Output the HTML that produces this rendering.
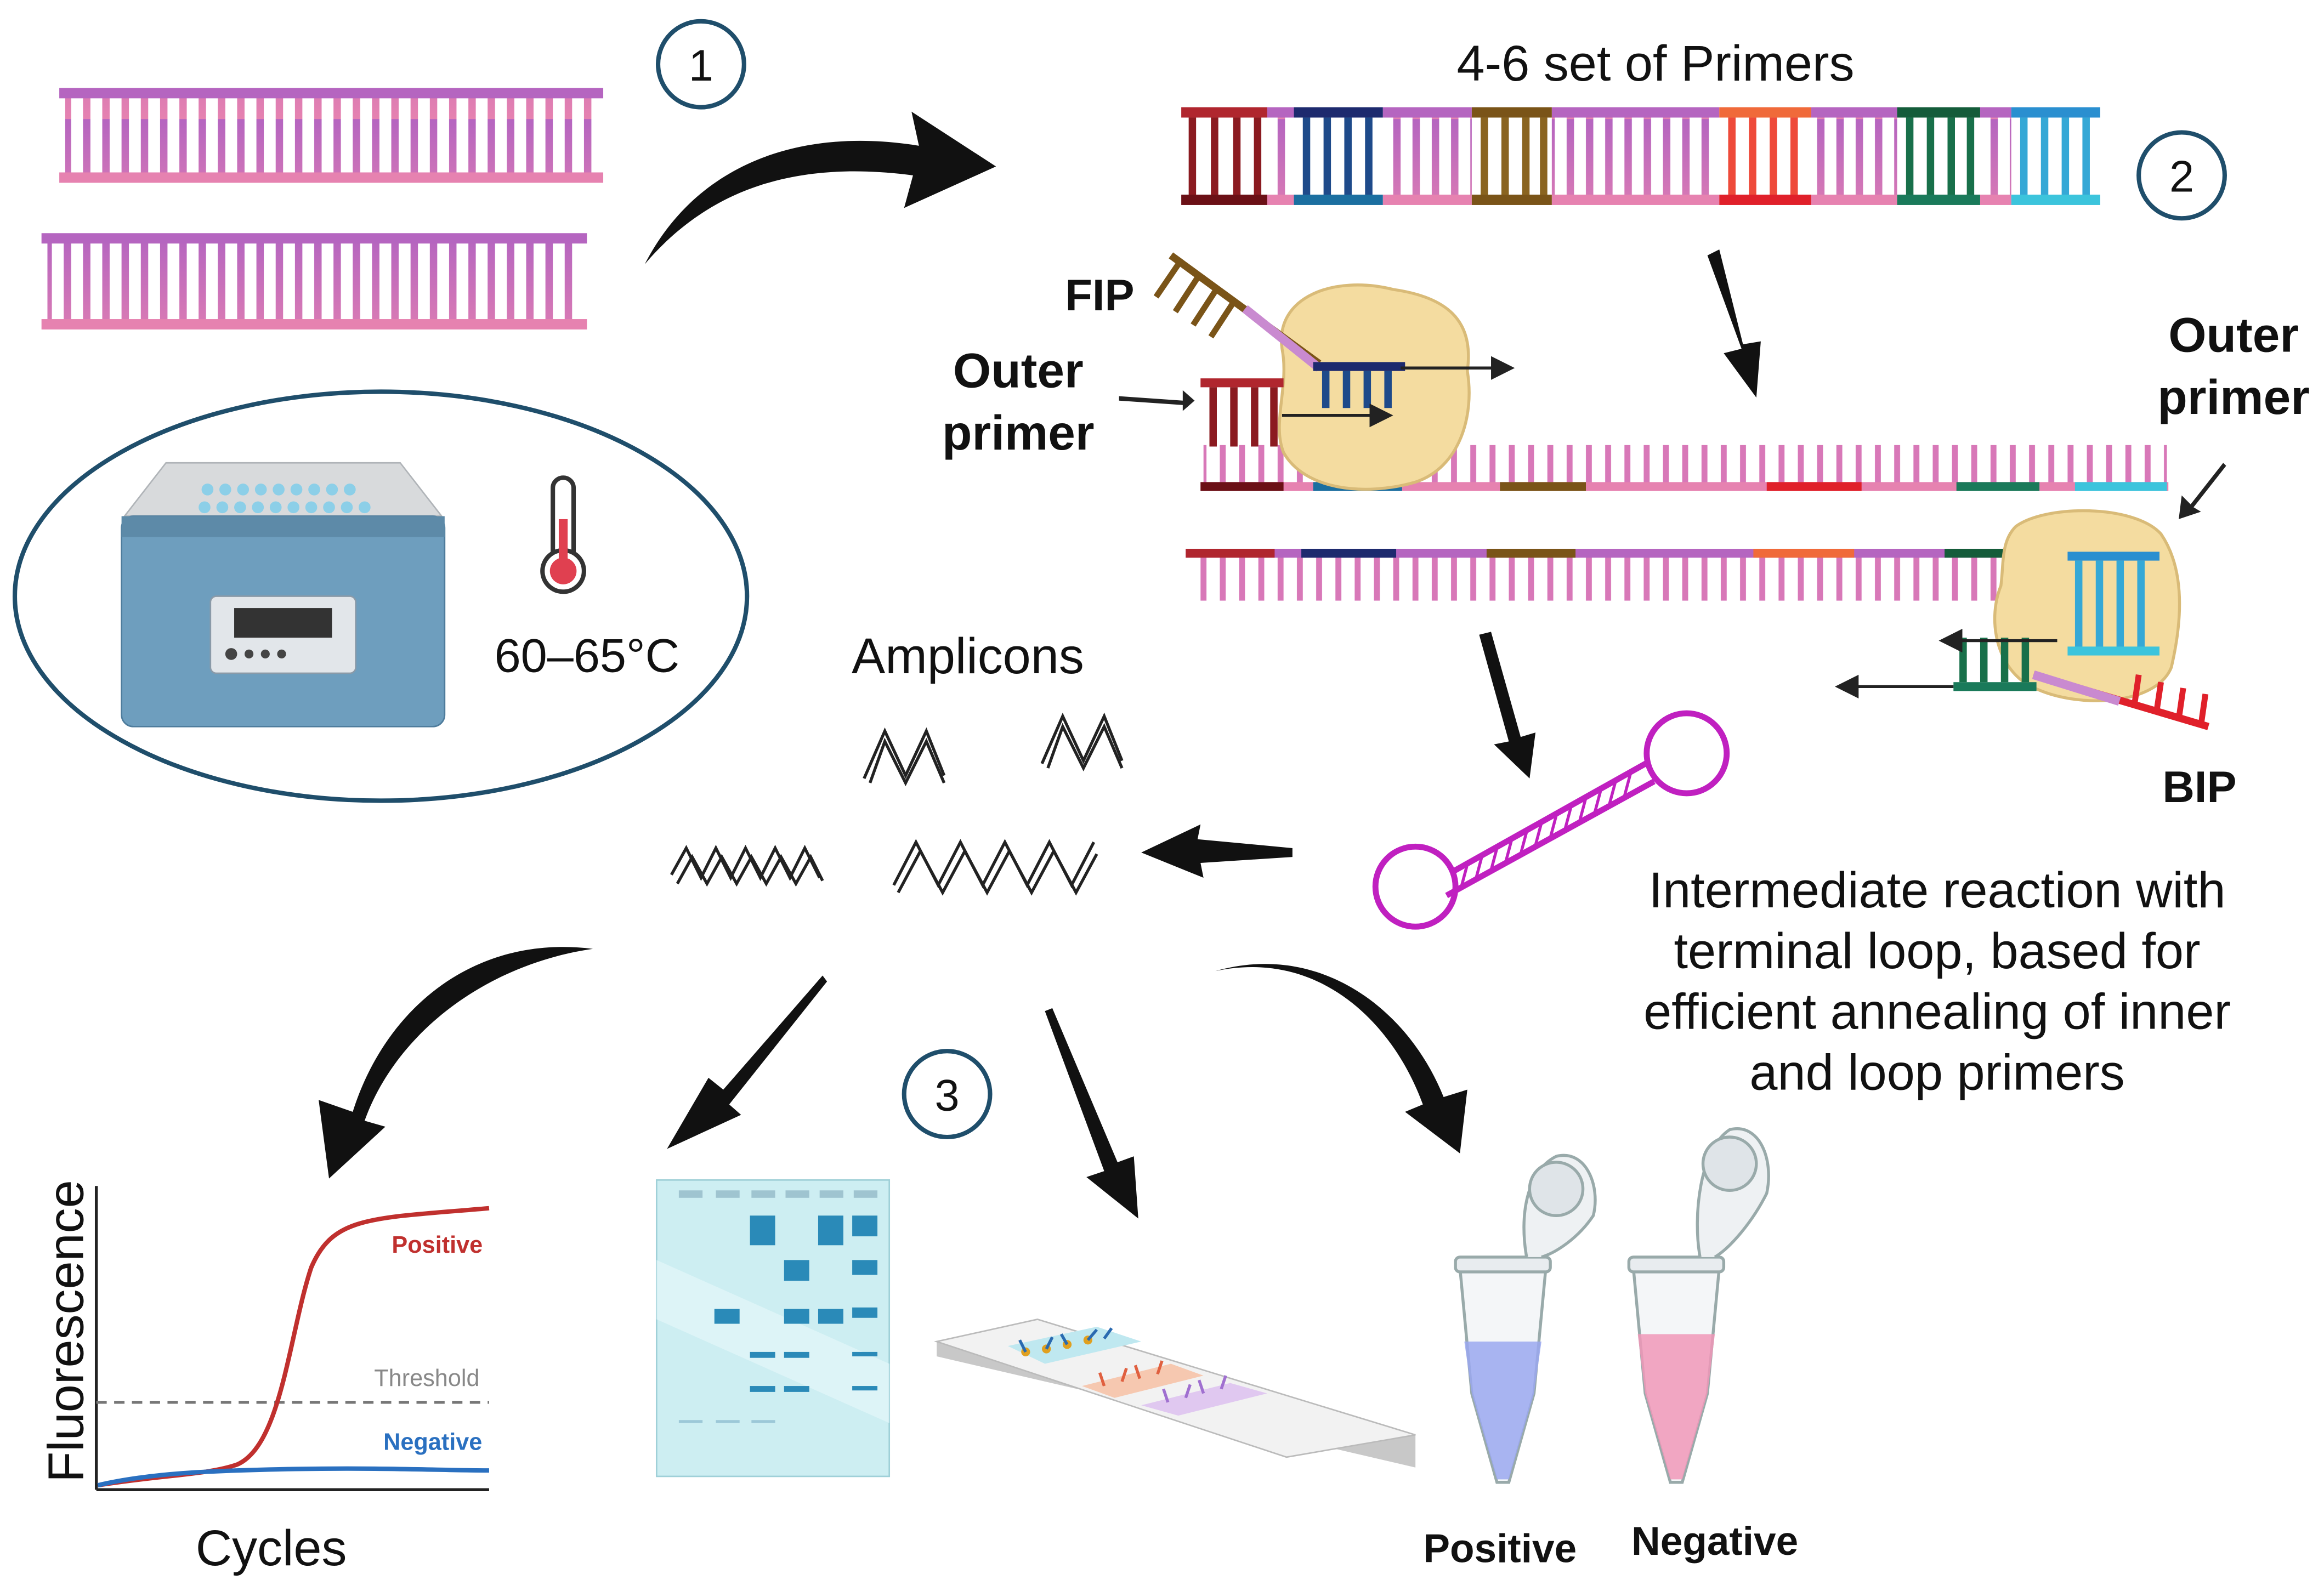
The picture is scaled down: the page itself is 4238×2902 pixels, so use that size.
<!DOCTYPE html>
<html><head><meta charset="utf-8"><style>
html,body{margin:0;padding:0;background:#fff;}
svg{display:block;}
text{font-family:"Liberation Sans",sans-serif;}
</style></head><body>
<svg width="4238" height="2902" viewBox="0 0 1568 1073" xmlns="http://www.w3.org/2000/svg">
<defs>
<linearGradient id="rg" x1="0" y1="0" x2="0" y2="1"><stop offset="0" stop-color="#b565c0"/><stop offset="1" stop-color="#e682b0"/></linearGradient>
<pattern id="rungs" width="13" height="80" patternUnits="userSpaceOnUse"><rect x="4" y="0" width="5" height="80" fill="url(#rg)"/></pattern>
<pattern id="rungs2" width="13" height="80" patternUnits="userSpaceOnUse"><rect x="4" y="0" width="4" height="80" fill="#d878b8"/></pattern>
<marker id="ah" markerWidth="8" markerHeight="8" refX="7" refY="4" orient="auto"><path d="M0,0 L8,4 L0,8 z" fill="#222"/></marker>
</defs>

<g>
<rect x="44" y="62" width="360" height="58" fill="url(#rungs)"/>
<rect x="40" y="59" width="367" height="7" fill="#b565c0"/>
<rect x="40" y="116" width="367" height="7" fill="#e682b0"/>
<rect x="32" y="160" width="360" height="60" fill="url(#rungs)"/>
<rect x="28" y="157" width="368" height="7" fill="#b565c0"/>
<rect x="28" y="215" width="368" height="7" fill="#e682b0"/>
</g>

<circle cx="473" cy="43" r="29" fill="none" stroke="#1f4e6b" stroke-width="3"/>
<text x="473" y="54" font-size="30" text-anchor="middle" fill="#111">1</text>

<path d="M435,178 C470,110 540,85 620,98 L615,75 L672,112 L610,140 L616,118 C540,108 480,125 435,178 z" fill="#111"/>

<text x="1117" y="54" font-size="34" text-anchor="middle" fill="#111">4-6 set of Primers</text>

<g>
<rect x="800" y="76" width="614" height="58" fill="url(#rungs)"/>
<rect x="797" y="72" width="620" height="7" fill="#b565c0"/>
<rect x="797" y="131" width="620" height="7" fill="#e682b0"/>
<g>
<rect x="797" y="72" width="58" height="66" fill="#fff"/>
<rect x="797" y="72" width="58" height="7" fill="#b0262e"/><rect x="797" y="131" width="58" height="7" fill="#6b1016"/>
<rect x="802" y="79" width="5" height="52" fill="#8b1a20"/><rect x="817" y="79" width="5" height="52" fill="#8b1a20"/><rect x="832" y="79" width="5" height="52" fill="#8b1a20"/><rect x="846" y="79" width="5" height="52" fill="#8b1a20"/>
</g>
<g>
<rect x="873" y="72" width="60" height="66" fill="#fff"/>
<rect x="873" y="72" width="60" height="7" fill="#1d2a6e"/><rect x="873" y="131" width="60" height="7" fill="#1b6fa0"/>
<rect x="879" y="79" width="5" height="52" fill="#1e4a8a"/><rect x="893" y="79" width="5" height="52" fill="#1e4a8a"/><rect x="907" y="79" width="5" height="52" fill="#1e4a8a"/><rect x="921" y="79" width="5" height="52" fill="#1e4a8a"/>
</g>
<g>
<rect x="993" y="72" width="54" height="66" fill="#fff"/>
<rect x="993" y="72" width="54" height="7" fill="#7a5418"/><rect x="993" y="131" width="54" height="7" fill="#7a5418"/>
<rect x="999" y="79" width="5" height="52" fill="#8a6420"/><rect x="1013" y="79" width="5" height="52" fill="#8a6420"/><rect x="1027" y="79" width="5" height="52" fill="#8a6420"/><rect x="1039" y="79" width="5" height="52" fill="#8a6420"/>
</g>
<g>
<rect x="1160" y="72" width="62" height="66" fill="#fff"/>
<rect x="1160" y="72" width="62" height="7" fill="#f06a3a"/><rect x="1160" y="131" width="62" height="7" fill="#e0202a"/>
<rect x="1166" y="79" width="5" height="52" fill="#ee4a3a"/><rect x="1180" y="79" width="5" height="52" fill="#ee4a3a"/><rect x="1194" y="79" width="5" height="52" fill="#ee4a3a"/><rect x="1208" y="79" width="5" height="52" fill="#ee4a3a"/>
</g>
<g>
<rect x="1280" y="72" width="56" height="66" fill="#fff"/>
<rect x="1280" y="72" width="56" height="7" fill="#145c3a"/><rect x="1280" y="131" width="56" height="7" fill="#1a7a5a"/>
<rect x="1286" y="79" width="5" height="52" fill="#18704a"/><rect x="1300" y="79" width="5" height="52" fill="#18704a"/><rect x="1314" y="79" width="5" height="52" fill="#18704a"/><rect x="1327" y="79" width="5" height="52" fill="#18704a"/>
</g>
<g>
<rect x="1357" y="72" width="60" height="66" fill="#fff"/>
<rect x="1357" y="72" width="60" height="7" fill="#2a8fd0"/><rect x="1357" y="131" width="60" height="7" fill="#3cc4dc"/>
<rect x="1363" y="79" width="5" height="52" fill="#35a8d6"/><rect x="1377" y="79" width="5" height="52" fill="#35a8d6"/><rect x="1391" y="79" width="5" height="52" fill="#35a8d6"/><rect x="1405" y="79" width="5" height="52" fill="#35a8d6"/>
</g>
</g>

<circle cx="1472" cy="118" r="29" fill="none" stroke="#1f4e6b" stroke-width="3"/>
<text x="1472" y="129" font-size="30" text-anchor="middle" fill="#111">2</text>

<path d="M1152,172 L1175,235 L1163,238 L1185,268 L1188,230 L1176,232 L1160,168 z" fill="#111"/>

<g>
<rect x="812" y="300" width="650" height="26" fill="url(#rungs2)"/>
<rect x="810" y="325" width="653" height="6" fill="#e682b0"/>
<rect x="810" y="325" width="56" height="6" fill="#6b1016"/>
<rect x="886" y="325" width="60" height="6" fill="#1b6fa0"/>
<rect x="1012" y="325" width="58" height="6" fill="#7a5418"/>
<rect x="1192" y="325" width="64" height="6" fill="#e0202a"/>
<rect x="1320" y="325" width="56" height="6" fill="#1a7a5a"/>
<rect x="1400" y="325" width="62" height="6" fill="#3cc4dc"/>
</g>
<g>
<rect x="802" y="375" width="655" height="30" fill="url(#rungs2)"/>
<rect x="800" y="370" width="660" height="6" fill="#b565c0"/>
<rect x="800" y="370" width="60" height="6" fill="#b0262e"/>
<rect x="878" y="370" width="64" height="6" fill="#1d2a6e"/>
<rect x="1003" y="370" width="60" height="6" fill="#7a5418"/>
<rect x="1183" y="370" width="68" height="6" fill="#f06a3a"/>
<rect x="1312" y="370" width="58" height="6" fill="#145c3a"/>
</g>

<path d="M865,235 C860,200 900,185 940,195 C975,200 995,215 990,250 C995,280 985,315 955,325 C920,335 880,330 866,305 C858,285 870,260 865,235 z" fill="#f4dca0" stroke="#d9bb78" stroke-width="2"/>
<path d="M790,172 L890,245" stroke="#7a5418" stroke-width="5"/>
<path d="M840,208 L890,248" stroke="#c98ad0" stroke-width="6"/>
<g stroke="#7a5418" stroke-width="4"><line x1="795" y1="178" x2="780" y2="200"/><line x1="808" y1="187" x2="793" y2="210"/><line x1="820" y1="196" x2="805" y2="219"/><line x1="832" y1="204" x2="817" y2="227"/></g>
<rect x="886" y="244" width="62" height="6" fill="#1d2a6e"/>
<g fill="#1e4a8a"><rect x="892" y="250" width="5" height="25"/><rect x="906" y="250" width="5" height="25"/><rect x="920" y="250" width="5" height="25"/><rect x="934" y="250" width="5" height="25"/></g>
<rect x="810" y="255" width="56" height="6" fill="#b0262e"/>
<g fill="#8b1a20"><rect x="816" y="261" width="5" height="40"/><rect x="830" y="261" width="5" height="40"/><rect x="844" y="261" width="5" height="40"/><rect x="857" y="261" width="5" height="40"/></g>
<line x1="945" y1="248" x2="1020" y2="248" stroke="#222" stroke-width="2" marker-end="url(#ah)"/>
<line x1="865" y1="280" x2="938" y2="280" stroke="#222" stroke-width="2" marker-end="url(#ah)"/>
<path d="M755,267 L798,270 L798,263 L806,270 L798,277 L798,273 L755,270 z" fill="#222"/>

<text x="742" y="209" font-size="30" font-weight="bold" text-anchor="middle" fill="#111">FIP</text>
<text x="687" y="261" font-size="33" font-weight="bold" text-anchor="middle" fill="#111">Outer</text>
<text x="687" y="303" font-size="33" font-weight="bold" text-anchor="middle" fill="#111">primer</text>
<text x="1507" y="237" font-size="33" font-weight="bold" text-anchor="middle" fill="#111">Outer</text>
<text x="1507" y="279" font-size="33" font-weight="bold" text-anchor="middle" fill="#111">primer</text>
<text x="1484" y="541" font-size="30" font-weight="bold" text-anchor="middle" fill="#111">BIP</text>

<path d="M1360,355 C1380,340 1440,340 1458,360 C1475,385 1472,420 1465,450 C1455,475 1405,478 1375,465 C1348,455 1340,420 1350,395 C1352,380 1350,365 1360,355 z" fill="#f4dca0" stroke="#d9bb78" stroke-width="2"/>
<rect x="1395" y="372" width="62" height="6" fill="#2a8fd0"/>
<g fill="#35a8d6"><rect x="1400" y="378" width="5" height="60"/><rect x="1414" y="378" width="5" height="60"/><rect x="1428" y="378" width="5" height="60"/><rect x="1442" y="378" width="5" height="60"/></g>
<rect x="1395" y="436" width="62" height="6" fill="#3cc4dc"/>
<rect x="1318" y="460" width="56" height="6" fill="#1a7a5a"/>
<g fill="#18704a"><rect x="1322" y="430" width="5" height="30"/><rect x="1336" y="430" width="5" height="30"/><rect x="1350" y="430" width="5" height="30"/><rect x="1364" y="430" width="5" height="30"/></g>
<path d="M1372,455 L1490,490" stroke="#e0202a" stroke-width="5"/>
<path d="M1372,455 L1430,473" stroke="#c98ad0" stroke-width="6"/>
<g stroke="#e0202a" stroke-width="4"><line x1="1440" y1="476" x2="1443" y2="455"/><line x1="1455" y1="480" x2="1458" y2="460"/><line x1="1470" y1="485" x2="1473" y2="464"/><line x1="1485" y1="489" x2="1488" y2="468"/></g>
<line x1="1388" y1="432" x2="1310" y2="432" stroke="#222" stroke-width="2" marker-end="url(#ah)"/>
<line x1="1318" y1="463" x2="1240" y2="463" stroke="#222" stroke-width="2" marker-end="url(#ah)"/>
<path d="M1500,312 L1478,340 L1472,334 L1470,350 L1485,345 L1480,342 L1502,314 z" fill="#222"/>

<ellipse cx="257" cy="402" rx="247" ry="138" fill="none" stroke="#1f4e6b" stroke-width="3"/>
<path d="M112,312 L270,312 L298,348 L84,348 z" fill="#d8dadc" stroke="#b0b4b8"/>
<g fill="#8ccfe8"><circle cx="140" cy="330" r="4"/><circle cx="152" cy="330" r="4"/><circle cx="164" cy="330" r="4"/><circle cx="176" cy="330" r="4"/><circle cx="188" cy="330" r="4"/><circle cx="200" cy="330" r="4"/><circle cx="212" cy="330" r="4"/><circle cx="224" cy="330" r="4"/><circle cx="236" cy="330" r="4"/>
<circle cx="138" cy="342" r="4"/><circle cx="150" cy="342" r="4"/><circle cx="162" cy="342" r="4"/><circle cx="174" cy="342" r="4"/><circle cx="186" cy="342" r="4"/><circle cx="198" cy="342" r="4"/><circle cx="210" cy="342" r="4"/><circle cx="222" cy="342" r="4"/><circle cx="234" cy="342" r="4"/><circle cx="246" cy="342" r="4"/></g>
<rect x="82" y="348" width="218" height="142" rx="8" fill="#6e9ebe" stroke="#4e7c9c"/>
<rect x="82" y="348" width="218" height="14" fill="#5d8aa8"/>
<rect x="142" y="402" width="98" height="52" rx="4" fill="#e2e6ea" stroke="#8a9aa8"/>
<rect x="158" y="410" width="66" height="20" fill="#333"/>
<g fill="#444"><circle cx="156" cy="441" r="4"/><circle cx="168" cy="441" r="3"/><circle cx="179" cy="441" r="3"/><circle cx="190" cy="441" r="3"/></g>
<rect x="373" y="322" width="14" height="60" rx="7" fill="#fff" stroke="#333" stroke-width="3"/>
<circle cx="380" cy="385" r="14" fill="#fff" stroke="#333" stroke-width="3"/>
<circle cx="380" cy="385" r="9" fill="#e04050"/>
<rect x="377" y="350" width="6" height="35" fill="#e04050"/>
<text x="396" y="453" font-size="32" text-anchor="middle" fill="#111">60–65°C</text>

<text x="653" y="454" font-size="34" text-anchor="middle" fill="#111">Amplicons</text>
<g fill="none" stroke="#222" stroke-width="2">
<path d="M583,525 L597,493 L611,523 L625,493 L637,523"/><path d="M587,528 L597,500 L611,528 L625,500 L637,528"/>
<path d="M703,515 L717,483 L731,513 L745,483 L757,513"/><path d="M707,518 L717,490 L731,518 L745,490 L757,518"/>
<path d="M453,590 L463,572 L473,592 L483,572 L493,592 L503,572 L513,592 L523,572 L533,592 L543,572 L553,592"/>
<path d="M457,596 L467,578 L477,596 L487,578 L497,596 L507,578 L517,596 L527,578 L537,596 L547,578 L555,594"/>
<path d="M603,597 L618,568 L633,597 L648,568 L663,597 L678,568 L693,597 L708,568 L723,597 L738,568"/>
<path d="M606,602 L621,574 L636,602 L651,574 L666,602 L681,574 L696,602 L711,574 L726,602 L740,576"/>
</g>

<path d="M998,428 L1018,500 L1008,502 L1032,525 L1036,494 L1026,497 L1006,426 z" fill="#111"/>
<path d="M872,572 L808,566 L810,556 L770,575 L812,592 L810,582 L872,578 z" fill="#111"/>

<g stroke="#c020c0" fill="none" stroke-width="4">
<circle cx="955" cy="598" r="27"/>
<circle cx="1138" cy="508" r="27"/>
<path d="M980,588 L1112,514"/><path d="M976,604 L1116,527"/>
</g>
<g stroke="#c020c0" stroke-width="2">
<line x1="990" y1="583" x2="986" y2="598"/><line x1="1000" y1="577" x2="996" y2="592"/><line x1="1010" y1="572" x2="1006" y2="587"/><line x1="1020" y1="566" x2="1016" y2="581"/><line x1="1030" y1="561" x2="1026" y2="576"/><line x1="1040" y1="555" x2="1036" y2="570"/><line x1="1050" y1="550" x2="1046" y2="565"/><line x1="1060" y1="544" x2="1056" y2="559"/><line x1="1070" y1="538" x2="1066" y2="553"/><line x1="1080" y1="533" x2="1076" y2="548"/><line x1="1090" y1="527" x2="1086" y2="542"/><line x1="1100" y1="522" x2="1096" y2="537"/>
</g>

<g font-size="34" text-anchor="middle" fill="#111">
<text x="1307" y="612">Intermediate reaction with</text>
<text x="1307" y="653">terminal loop, based for</text>
<text x="1307" y="694">efficient annealing of inner</text>
<text x="1307" y="735">and loop primers</text>
</g>

<path d="M400,640 C320,630 260,680 238,750 L215,742 L222,795 L260,760 L246,756 C268,695 330,650 400,640 z" fill="#111"/>
<path d="M555,658 L488,735 L478,727 L450,775 L500,752 L492,745 L558,662 z" fill="#111"/>
<path d="M705,682 L745,790 L733,794 L768,822 L765,780 L754,784 L710,680 z" fill="#111"/>
<path d="M820,655 C890,640 940,690 960,745 L948,750 L985,778 L990,735 L974,740 C950,680 890,635 820,655 z" fill="#111"/>

<circle cx="639" cy="738" r="29" fill="none" stroke="#1f4e6b" stroke-width="3"/>
<text x="639" y="749" font-size="30" text-anchor="middle" fill="#111">3</text>

<line x1="65" y1="800" x2="65" y2="1005" stroke="#222" stroke-width="2"/>
<line x1="65" y1="1005" x2="330" y2="1005" stroke="#222" stroke-width="2"/>
<line x1="65" y1="946" x2="330" y2="946" stroke="#777" stroke-width="2" stroke-dasharray="7,5"/>
<path d="M66,1002 C110,995 140,995 160,988 C190,975 195,900 210,855 C225,820 250,822 330,815" fill="none" stroke="#c0302e" stroke-width="3"/>
<path d="M66,1002 C100,994 140,992 200,991 C260,990 300,992 330,992" fill="none" stroke="#2a70c0" stroke-width="3"/>
<text x="295" y="845" font-size="16" font-weight="bold" text-anchor="middle" fill="#c0302e">Positive</text>
<text x="288" y="935" font-size="16" text-anchor="middle" fill="#888">Threshold</text>
<text x="292" y="978" font-size="16" font-weight="bold" text-anchor="middle" fill="#2a70c0">Negative</text>
<text x="0" y="0" font-size="34" text-anchor="middle" fill="#111" transform="translate(56,898) rotate(-90)">Fluorescence</text>
<text x="183" y="1056" font-size="34" text-anchor="middle" fill="#111">Cycles</text>

<rect x="443" y="796" width="157" height="200" fill="#cdeef2" stroke="#9fd0d8"/>
<path d="M443,850 L600,920 L600,960 L443,890 z" fill="#e4f7fa" opacity="0.7"/>
<g fill="#9fc4d0"><rect x="458" y="803" width="16" height="5"/><rect x="483" y="803" width="16" height="5"/><rect x="507" y="803" width="16" height="5"/><rect x="530" y="803" width="16" height="5"/><rect x="553" y="803" width="16" height="5"/><rect x="576" y="803" width="16" height="5"/></g>
<g fill="#2a8ab8"><rect x="506" y="820" width="17" height="20"/><rect x="552" y="820" width="17" height="20"/><rect x="575" y="820" width="17" height="14"/><rect x="529" y="850" width="17" height="14"/><rect x="575" y="850" width="17" height="10"/><rect x="482" y="883" width="17" height="10"/><rect x="529" y="883" width="17" height="10"/><rect x="552" y="883" width="17" height="10"/><rect x="575" y="882" width="17" height="7"/>
<rect x="506" y="912" width="17" height="4"/><rect x="529" y="912" width="17" height="4"/><rect x="575" y="912" width="17" height="3"/><rect x="506" y="935" width="17" height="4"/><rect x="529" y="935" width="17" height="4"/><rect x="575" y="935" width="17" height="3"/></g>
<g fill="#9cc8d8"><rect x="458" y="958" width="16" height="2"/><rect x="483" y="958" width="16" height="2"/><rect x="507" y="958" width="16" height="2"/></g>

<path d="M632,905 L868,952 L955,968 L955,990 L632,915 z" fill="#c8c8c8"/>
<path d="M632,905 L700,890 L955,968 L868,983 z" fill="#f2f2f2" stroke="#bbb"/>
<path d="M680,908 L740,895 L770,905 L705,920 z" fill="#bfe8f0"/>
<path d="M730,935 L790,920 L812,928 L752,943 z" fill="#f6c8b0"/>
<path d="M770,948 L830,933 L855,940 L795,955 z" fill="#e0c8f0"/>
<g fill="#e0a020"><circle cx="692" cy="912" r="3"/><circle cx="706" cy="910" r="3"/><circle cx="720" cy="907" r="3"/><circle cx="734" cy="904" r="3"/></g>
<g stroke="#2a6ab0" stroke-width="2"><line x1="692" y1="912" x2="688" y2="904"/><line x1="706" y1="910" x2="710" y2="902"/><line x1="720" y1="907" x2="716" y2="900"/><line x1="734" y1="904" x2="740" y2="897"/><line x1="745" y1="903" x2="750" y2="896"/></g>
<g stroke="#e06040" stroke-width="2"><line x1="745" y1="935" x2="742" y2="926"/><line x1="757" y1="932" x2="760" y2="923"/><line x1="769" y1="930" x2="766" y2="921"/><line x1="781" y1="927" x2="784" y2="918"/></g>
<g stroke="#a070d0" stroke-width="2"><line x1="788" y1="946" x2="785" y2="937"/><line x1="800" y1="943" x2="803" y2="934"/><line x1="812" y1="940" x2="809" y2="931"/><line x1="824" y1="937" x2="827" y2="928"/></g>

<g>
<path d="M985,855 L1043,855 L1035,940 L1018,1000 L1010,1000 L993,940 z" fill="#f4f6f8" stroke="#9aa" stroke-width="2"/>
<path d="M988,905 L1040,905 L1035,940 L1018,998 L1010,998 L993,940 z" fill="#9aa8f0" opacity="0.85"/>
<rect x="982" y="848" width="64" height="10" rx="3" fill="#e8ecef" stroke="#9aa" stroke-width="2"/>
<path d="M1030,848 C1025,820 1030,790 1050,780 C1070,775 1080,800 1075,820 C1065,835 1050,845 1040,848" fill="#eef1f3" stroke="#9aa" stroke-width="2"/>
<circle cx="1050" cy="802" r="18" fill="#dfe4e8" stroke="#9aa" stroke-width="2"/>
</g>
<g>
<path d="M1102,855 L1160,855 L1152,940 L1135,1000 L1127,1000 L1110,940 z" fill="#f4f6f8" stroke="#9aa" stroke-width="2"/>
<path d="M1105,900 L1157,900 L1152,940 L1135,998 L1127,998 L1110,940 z" fill="#f098b8" opacity="0.85"/>
<rect x="1099" y="848" width="64" height="10" rx="3" fill="#e8ecef" stroke="#9aa" stroke-width="2"/>
<path d="M1147,848 C1142,820 1147,775 1167,762 C1187,757 1197,782 1192,805 C1182,825 1167,842 1157,848" fill="#eef1f3" stroke="#9aa" stroke-width="2"/>
<circle cx="1167" cy="785" r="18" fill="#dfe4e8" stroke="#9aa" stroke-width="2"/>
</g>
<text x="1012" y="1054" font-size="27" font-weight="bold" text-anchor="middle" fill="#111">Positive</text>
<text x="1157" y="1049" font-size="27" font-weight="bold" text-anchor="middle" fill="#111">Negative</text>
</svg>
</body></html>
